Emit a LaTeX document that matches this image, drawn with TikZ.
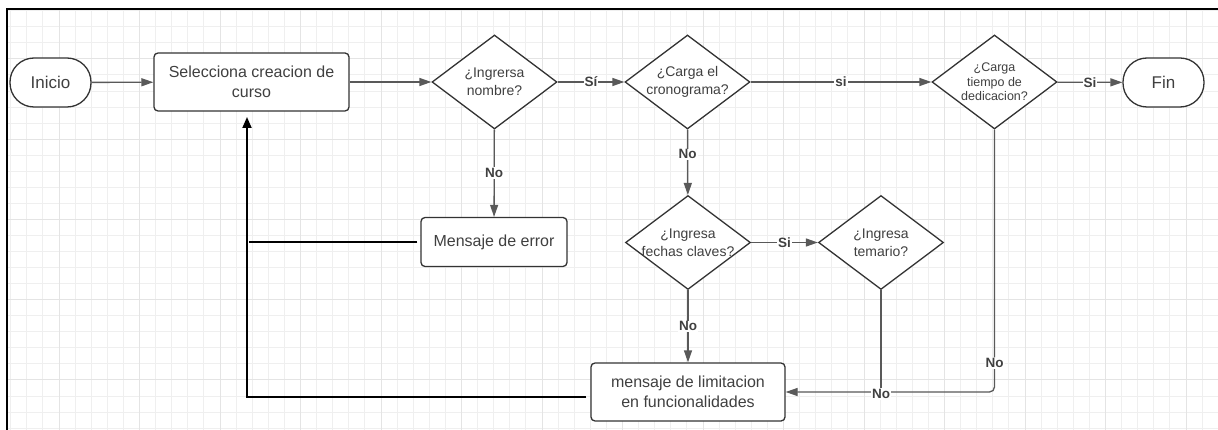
\documentclass[tikz,border=0pt]{standalone}
\usepackage{fontspec}
\setmainfont{Liberation Sans}
\usetikzlibrary{shapes.geometric,arrows.meta}
\definecolor{edgec}{HTML}{333333}
\definecolor{arrc}{HTML}{595959}
\definecolor{txtc}{HTML}{404040}
\definecolor{gridminor}{HTML}{EFEFEF}
\definecolor{gridmajor}{HTML}{E4E4E4}
\begin{document}
\begin{tikzpicture}[x=1pt,y=-1pt,
 term/.style={draw=edgec,line width=1.3pt,rounded corners=24pt,minimum width=81pt,minimum height=49pt,inner sep=0pt,font=\fontsize{17}{20}\selectfont,text=txtc,fill=white},
 proc/.style={draw=edgec,line width=1.3pt,rounded corners=4pt,inner sep=0pt,align=center,font=\fontsize{16}{19.5}\selectfont,text=txtc,fill=white},
 dec/.style={diamond,draw=edgec,line width=1.3pt,shape aspect=1.33,minimum width=125pt,minimum height=94pt,inner sep=0pt,align=center,font=\fontsize{14}{18}\selectfont,text=txtc,fill=white},
 flow/.style={draw=arrc,line width=1.3pt,-{Triangle[length=12pt,width=8pt]}},
 plain/.style={draw=arrc,line width=1.3pt},
 back/.style={draw=black,line width=1.8pt},
 lbl/.style={fill=white,inner sep=1pt,font=\bfseries\fontsize{13.5}{15}\selectfont,text=txtc},
]
\useasboundingbox (0,0) rectangle (1218,430);
\fill[white] (0,0) rectangle (1218,430);
% grid
\begin{scope}
\clip (7,9) rectangle (1218,430);
\foreach \k in {0,...,75} \draw[gridminor,line width=0.8pt] (10.6+16.1*\k,9) -- (10.6+16.1*\k,430);
\foreach \k in {0,...,26} \draw[gridminor,line width=0.8pt] (7,10.7+16.05*\k) -- (1218,10.7+16.05*\k);
\foreach \k in {3,8,...,73} \draw[gridmajor,line width=0.8pt] (10.6+16.1*\k,9) -- (10.6+16.1*\k,430);
\foreach \k in {3,8,...,23} \draw[gridmajor,line width=0.8pt] (7,10.7+16.05*\k) -- (1218,10.7+16.05*\k);
\end{scope}
% frame
\draw[black,line width=2pt] (6.5,430) -- (6.5,9.5) -- (1218,9.5);

% nodes
\node[term] (inicio) at (50.5,82.5) {Inicio};
\node[proc,minimum width=195pt,minimum height=58pt] (sel) at (251.5,82) {Selecciona creacion de\\curso};
\node[dec] (nom) at (494.5,82) {¿Ingrersa\\nombre?};
\node[dec] (crono) at (687.5,82) {¿Carga el\\cronograma?};
\node[dec,font=\fontsize{12.5}{14.5}\selectfont] (ded) at (994.5,82) {¿Carga\\tiempo de\\dedicacion?};
\node[term] (fin) at (1163.5,82.5) {Fin};
\node[proc,minimum width=146pt,minimum height=49pt] (err) at (494,242) {Mensaje de error};
\node[dec,inner xsep=-4pt] (fech) at (688,242.5) {¿Ingresa\\fechas claves?};
\node[dec] (tem) at (881,242.5) {¿Ingresa\\temario?};
\node[proc,minimum width=194pt,minimum height=58pt] (lim) at (688,392) {mensaje de limitacion\\en funcionalidades};

% connectors
\draw[flow] (inicio) -- (sel);
\draw[flow] (sel) -- (nom);
\draw[flow] (nom) -- node[lbl]{Sí} (crono);
\draw[flow] (crono) -- node[lbl]{si} (ded);
\draw[flow] (ded) -- node[lbl]{Si} (fin);
\draw[flow] (nom) -- node[lbl]{No} (err);
\draw[flow] (crono) -- node[lbl,pos=0.38]{No} (fech);
\draw[flow] (fech) -- node[lbl]{Si} (tem);
\draw[flow] (fech) -- node[lbl]{No} (lim);
\coordinate (dc) at (ded.south |- lim.east);
\coordinate (tc) at (tem.south |- lim.east);
\draw[flow,rounded corners=5pt] (ded.south) -- node[lbl,pos=0.89]{No} (dc) -- (lim.east);
\draw[plain] (tem.south) -- (tc);
\node[lbl] (tlab) at ([yshift=-2pt]tc) {No};

% loop-back lines
\coordinate (b1) at (247,397);
\coordinate (b2) at (247,117);
\coordinate (b3) at (249,242);
\draw[back,-{Triangle[length=11pt,width=9pt]}] ([xshift=-4pt]lim.west |- b1) -- (b1) -- (b2);
\draw[back] ([xshift=-3pt]err.west) -- (b3);
\end{tikzpicture}
\end{document}
